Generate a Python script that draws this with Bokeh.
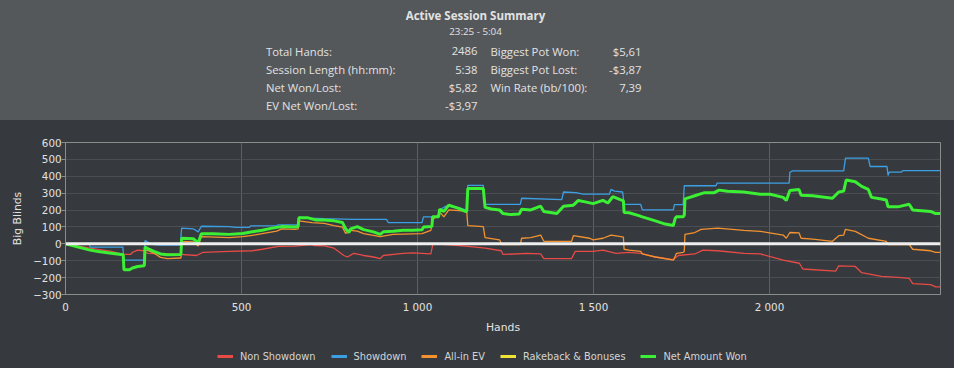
from bokeh.plotting import figure
from bokeh.models import Range1d, Legend, LegendItem, FixedTicker, Span
from bokeh.layouts import column
from bokeh.embed import file_html
from bokeh.resources import INLINE
from bokeh.core.properties import value

# ---------------- summary texts ----------------
title = "Active Session Summary"
subtitle = "23:25 - 5:04"
left_labels = ["Total Hands:", "Session Length (hh:mm):", "Net Won/Lost:", "EV Net Won/Lost:"]
left_values = ["2486", "5:38", "$5,82", "-$3,97"]
right_labels = ["Biggest Pot Won:", "Biggest Pot Lost:", "Win Rate (bb/100):"]
right_values = ["$5,61", "-$3,87", "7,39"]

# ---------------- chart data ----------------
series_names = ["Non Showdown", "Showdown", "All-in EV", "Rakeback & Bonuses", "Net Amount Won"]
x_ticks = [0, 500, 1000, 1500, 2000]
x_tick_labels = ["0", "500", "1 000", "1 500", "2 000"]
y_ticks = [-300, -200, -100, 0, 100, 200, 300, 400, 500, 600]

nonsd_hands = [0, 70, 130, 163, 185, 190, 205, 223, 233, 326, 372, 391, 465, 531, 559, 605, 652, 698,
               708, 735, 763, 791, 801, 819, 847, 875, 894, 903, 959, 987, 1038, 1044, 1080, 1136,
               1192, 1238, 1243, 1312, 1350, 1359, 1438, 1448, 1499, 1527, 1564, 1601, 1634, 1676,
               1727, 1741, 1788, 1811, 1853, 1927, 1974, 2039, 2085, 2095, 2188, 2197, 2244, 2262,
               2318, 2365, 2397, 2407, 2458, 2472, 2486]
nonsd_bb = [0, -26, -45, -63, -63, -50, -37, -41, -56, -63, -69, -50, -45, -41, -32, -15, -13, -4,
            -10, -12, -26, -69, -78, -56, -69, -78, -87, -69, -56, -54, -60, 0, -4, -13,
            -26, -41, -63, -56, -60, -87, -87, -45, -45, -37, -56, -50, -56, -78,
            -93, -69, -60, -37, -41, -56, -60, -97, -115, -149, -162, -130, -134, -171,
            -193, -199, -205, -236, -242, -255, -255]

sd_hands = [0, 68, 70, 163, 166, 223, 226, 237, 250, 270, 326, 330, 363, 377, 386, 465, 484, 522,
            526, 600, 605, 661, 663, 689, 735, 819, 912, 917, 1013, 1017, 1060, 1063, 1080, 1117,
            1136, 1140, 1143, 1187, 1192, 1292, 1296, 1410, 1415, 1450, 1471, 1545, 1550, 1560,
            1583, 1587, 1634, 1639, 1727, 1730, 1755, 1758, 1848, 1851, 2056, 2058, 2066, 2211,
            2216, 2281, 2286, 2334, 2337, 2340, 2374, 2379, 2486]
sd_bb = [0, 0, -19, -19, -97, -97, 19, 6, -5, -7, -7, 93, 89, 71, 104, 102, 97, 97,
         106, 108, 112, 112, 158, 152, 149, 145, 145, 126, 126, 160, 160, 200, 223, 215,
         201, 201, 346, 346, 234, 234, 270, 262, 307, 303, 294, 294, 322, 312,
         307, 234, 234, 201, 201, 232, 232, 344, 344, 359, 359, 424, 432, 432,
         508, 508, 458, 458, 405, 424, 424, 433, 433]

ev_hands = [0, 70, 93, 130, 158, 164, 166, 182, 190, 205, 223, 224, 226, 240, 255, 270, 290, 326,
            328, 330, 363, 377, 386, 465, 503, 531, 559, 600, 614, 652, 661, 663, 700, 735, 763,
            787, 796, 810, 829, 847, 894, 931, 1013, 1038, 1044, 1066, 1075, 1089, 1117, 1140,
            1143, 1187, 1192, 1233, 1240, 1292, 1296, 1322, 1350, 1359, 1438, 1443, 1489, 1499,
            1527, 1550, 1578, 1585, 1587, 1601, 1634, 1639, 1676, 1727, 1736, 1755, 1758, 1760,
            1788, 1806, 1853, 1927, 1974, 2039, 2048, 2058, 2084, 2090, 2123, 2179, 2197, 2211,
            2216, 2244, 2281, 2332, 2337, 2397, 2407, 2458, 2472, 2486]
ev_bb = [0, -37, -46, -56, -63, -65, -153, -153, -143, -134, -130, -130, -35, -45, -60, -80, -87, -84,
         -84, 15, 11, -13, 43, 37, 43, 50, 61, 75, 89, 86, 88, 136, 126, 121, 108,
         99, 61, 80, 75, 61, 43, 56, 61, 80, 145, 182, 160, 201, 197, 192,
         108, 102, 37, 24, -4, -4, 33, 37, 52, 15, 15, 48, 33, 24,
         33, 52, 43, 40, -32, -37, -45, -60, -78, -97, -56, -50, -45, 56,
         67, 86, 93, 80, 74, 52, 33, 67, 65, 33, 28, 15, 48, 52,
         86, 74, 33, 15, -4, -4, -32, -41, -50, -50]

rake_hands = [0, 2486]
rake_bb = [0, 0]

net_hands = [0, 70, 93, 130, 158, 164, 166, 182, 190, 205, 223, 224, 226, 237, 251, 270, 289, 326,
             328, 330, 363, 377, 386, 419, 465, 503, 531, 559, 587, 614, 652, 661, 663, 689, 712,
             735, 763, 787, 796, 805, 810, 829, 847, 875, 894, 903, 931, 959, 987, 1013, 1017,
             1038, 1041, 1043, 1060, 1063, 1075, 1089, 1117, 1136, 1140, 1143, 1187, 1192, 1210,
             1233, 1243, 1266, 1289, 1296, 1322, 1350, 1359, 1396, 1415, 1443, 1457, 1480, 1499,
             1527, 1541, 1555, 1578, 1585, 1587, 1601, 1629, 1639, 1676, 1704, 1727, 1732, 1736,
             1755, 1758, 1760, 1788, 1802, 1816, 1843, 1857, 1881, 1927, 1974, 2002, 2039, 2048,
             2058, 2084, 2090, 2123, 2179, 2197, 2211, 2218, 2244, 2262, 2281, 2290, 2318, 2332,
             2337, 2365, 2397, 2407, 2458, 2472, 2486]
net_bb = [0, -37, -46, -56, -63, -65, -153, -153, -143, -134, -130, -130, -19, -32, -45, -60, -65, -63,
          -63, 33, 30, 6, 60, 60, 56, 61, 71, 80, 93, 102, 100, 102, 154, 154, 141,
          141, 136, 126, 89, 67, 89, 102, 84, 71, 56, 71, 74, 80, 80, 84, 99,
          102, 102, 160, 160, 205, 192, 229, 210, 192, 192, 327, 327, 216, 206,
          201, 179, 173, 177, 205, 201, 223, 192, 179, 223, 229, 257, 247, 238,
          257, 242, 279, 260, 255, 186, 184, 167, 160, 136, 117, 108, 150, 160,
          160, 170, 266, 285, 294, 303, 303, 318, 312, 307, 294, 294, 275, 257,
          316, 322, 288, 285, 270, 307, 312, 378, 368, 340, 322, 275, 266, 260,
          219, 219, 234, 201, 192, 179, 179]

# ---------------- styles / layout (pixels) ----------------
W = 954
TOP_H = 120                      # grey summary band
CH_H = 216                       # chart block (frame + axes)
LEG_BLOCK = 32                   # legend strip
FL, FR, FT, FB = 65, 14, 22, 40  # chart borders
TOP_BG = "#55585b"
BG = "#363a3e"
TXT = "#e2e2e2"
TOP_FONT = "Open Sans"
CHART_FONT = "DejaVu Sans"
colors = ["#e84a45", "#3d9fe3", "#f3922f", "#f0e235", "#3bef35"]
widths = [1.3, 1.3, 1.3, 1.3, 3]

# ---------------- top summary panel ----------------
top = figure(width=W, height=TOP_H, x_range=Range1d(FL, W - FR), y_range=Range1d(TOP_H, 0),
             output_backend="svg", toolbar_location=None,
             min_border_left=FL, min_border_right=FR, min_border_top=0, min_border_bottom=0,
             x_axis_type=None, y_axis_type=None, styles={"background-color": TOP_BG})
top.background_fill_color = TOP_BG
top.border_fill_color = None
top.outline_line_color = None

def txt(xs, ys, texts, size, align, style="normal"):
    top.text(x=xs, y=ys, text=texts, text_font=value(TOP_FONT), text_font_size=size,
             text_font_style=style, text_color=TXT, text_align=align, text_baseline="middle")

rows = [50.8, 69.0, 87.2, 105.4]
txt([475], [15.3], [title], "11.5px", "center", "bold")
txt([475], [30.7], [subtitle], "9.8px", "center")
txt([265.5] * len(left_labels), rows[:len(left_labels)], left_labels, "11.3px", "left")
txt([477] * len(left_values), rows[:len(left_values)], left_values, "11.3px", "right")
txt([490] * len(right_labels), rows[:len(right_labels)], right_labels, "11.3px", "left")
txt([641] * len(right_values), rows[:len(right_values)], right_values, "11.3px", "right")

# ---------------- chart ----------------
p = figure(width=W, height=CH_H, x_range=Range1d(0, 2486), y_range=Range1d(-300, 600),
           output_backend="svg", toolbar_location=None,
           min_border_left=FL, min_border_right=FR, min_border_top=FT, min_border_bottom=FB,
           styles={"background-color": BG})
p.background_fill_color = BG
p.border_fill_color = None
p.outline_line_color = "#8c8c8c"
p.outline_line_width = 1

p.xaxis.ticker = FixedTicker(ticks=x_ticks)
p.xaxis.major_label_overrides = {t: l for t, l in zip(x_ticks, x_tick_labels)}
p.yaxis.ticker = FixedTicker(ticks=y_ticks)
p.xaxis.axis_label = "Hands"
p.yaxis.axis_label = "Big Blinds"
for ax in (p.xaxis[0], p.yaxis[0]):
    ax.axis_line_color = "#8c8c8c"
    ax.major_tick_line_color = "#8c8c8c"
    ax.minor_tick_line_color = None
    ax.major_tick_in = 0
    ax.major_label_text_color = TXT
    ax.major_label_text_font = CHART_FONT
    ax.major_label_text_font_size = "10.3px"
    ax.axis_label_text_color = TXT
    ax.axis_label_text_font = CHART_FONT
    ax.axis_label_text_font_size = "10.8px"
    ax.axis_label_text_font_style = "normal"
p.xaxis.major_tick_out = 0
p.xaxis.major_label_standoff = 6
p.xaxis.axis_label_standoff = 5
p.yaxis.major_tick_out = 4
p.yaxis.major_label_standoff = 0
p.yaxis.axis_label_standoff = 6

p.xgrid.grid_line_color = "#5c6064"
p.ygrid.grid_line_color = "#4a4e52"

all_hands = [nonsd_hands, sd_hands, ev_hands, rake_hands, net_hands]
all_bb = [nonsd_bb, sd_bb, ev_bb, rake_bb, net_bb]

zero = Span(location=0, dimension="width", line_color="#eeeeee", line_width=3, level="glyph")
p.add_layout(zero)
for name, hx, vy, c, w in zip(series_names, all_hands, all_bb, colors, widths):
    r = p.line(hx, vy, line_color=c, line_width=w)
    if name == "Rakeback & Bonuses":
        r.level = "underlay"

# ---------------- legend strip ----------------
leg = figure(width=W, height=LEG_BLOCK, x_range=p.x_range, y_range=p.y_range,
             output_backend="svg", toolbar_location=None,
             min_border_left=FL, min_border_right=FR, min_border_top=0, min_border_bottom=0,
             x_axis_type=None, y_axis_type=None, styles={"background-color": BG})
leg.background_fill_color = BG
leg.border_fill_color = None
leg.outline_line_color = None
items = []
for name, hx, vy, c in zip(series_names, all_hands, all_bb, colors):
    lr = leg.line(hx, vy, line_color=c, line_width=3, visible=False)
    items.append(LegendItem(label=name, renderers=[lr]))

LEG_H = 10
legend = Legend(items=items, orientation="horizontal", location=(217 - FL, 6.5),
                glyph_width=16, glyph_height=LEG_H, label_height=LEG_H, label_standoff=7,
                spacing=15, padding=0, margin=0,
                label_text_color="#d4d4d4", label_text_font=CHART_FONT,
                label_text_font_size="9.8px", label_text_baseline="middle",
                border_line_color=None, background_fill_alpha=0,
                inactive_fill_alpha=0)
leg.add_layout(legend, "center")

layout = column(top, p, leg, spacing=0)
open("out.html", "w").write(file_html(layout, INLINE))
